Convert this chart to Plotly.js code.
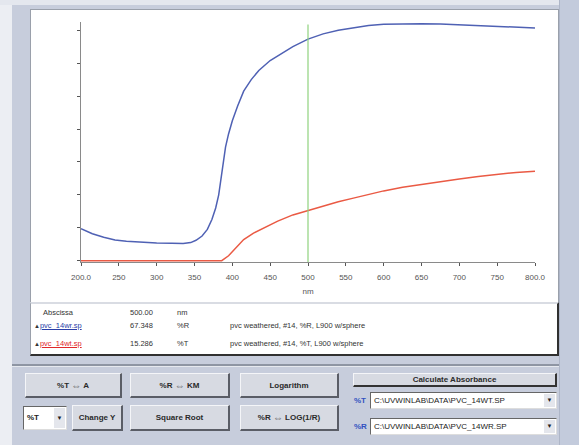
<!DOCTYPE html>
<html>
<head>
<meta charset="utf-8">
<script src="https://cdn.plot.ly/plotly-3.0.1.min.js"></script>
<style>
  html, body { margin:0; padding:0; }
  body { width:579px; height:445px; position:relative; overflow:hidden; background:#c7cddc;
         font-family:"Liberation Sans", Arial, sans-serif; }
  .abs { position:absolute; }
  .btn { position:absolute; background:#d7dae2; border-top:1px solid #f4f5f8; border-left:1px solid #f4f5f8;
         border-right:2px solid #5a5d66; border-bottom:2px solid #5a5d66; box-sizing:border-box;
         font-size:8px; font-weight:bold; color:#2a2a2a; display:flex; align-items:center; justify-content:center; white-space:pre; }
  .sym { font-size:10px; font-weight:normal; color:#555; }
  .txt { position:absolute; font-size:7.5px; color:#333; white-space:nowrap; line-height:9px; }
  .field { position:absolute; background:#fff; border-top:1px solid #666; border-left:1px solid #666;
           border-right:1px solid #ddd; border-bottom:1px solid #ddd; box-sizing:border-box;
           font-size:8px; color:#222; line-height:15px; padding-left:3px; white-space:nowrap; }
  .arrow { position:absolute; right:1px; top:1px; bottom:1px; width:11px; background:#e4e6ec;
           font-size:6px; color:#222; text-align:center; line-height:13px; }
</style>
</head>
<body>
<div class="abs" style="left:0;top:0;width:12px;height:445px;background:#eceef3;"></div>
<div class="abs" style="left:0;top:0;width:579px;height:5px;background:#e4e7ee;"></div>
<div class="abs" style="left:559px;top:0;width:20px;height:445px;background:#c3cbdc;border-left:1px solid #aeb6c8;"></div>

<!-- chart box -->
<div class="abs" style="left:30px;top:9px;width:529px;height:294px;background:#fff;border-top:1px solid #9aa0ab;border-left:1px solid #9aa0ab;border-right:1px solid #9aa0ab;box-sizing:border-box;"></div>
<div id="plot" class="abs" style="left:31px;top:10px;width:527px;height:292px;"></div>

<!-- legend box -->
<div class="abs" style="left:30px;top:302px;width:529px;height:54px;background:#fff;border-top:2px solid #d9dce3;border-left:1px solid #9aa0ab;border-right:2px solid #303030;border-bottom:2px solid #303030;box-sizing:border-box;"></div>

<div class="txt" style="left:43px;top:308px;">Abscissa</div>
<div class="txt" style="left:130px;top:308px;">500.00</div>
<div class="txt" style="left:177px;top:308px;">nm</div>

<div class="txt" style="left:34px;top:321px;color:#2a3fa8;"><span style="font-size:6px;color:#333;">&#9650;</span><span style="text-decoration:underline;">pvc_14wr.sp</span></div>
<div class="txt" style="left:130px;top:321px;">67.348</div>
<div class="txt" style="left:177px;top:321px;">%R</div>
<div class="txt" style="left:230px;top:321px;">pvc weathered, #14, %R, L900 w/sphere</div>

<div class="txt" style="left:34px;top:339px;color:#e0282a;"><span style="font-size:6px;color:#333;">&#9650;</span><span style="text-decoration:underline;">pvc_14wt.sp</span></div>
<div class="txt" style="left:130px;top:339px;">15.286</div>
<div class="txt" style="left:177px;top:339px;">%T</div>
<div class="txt" style="left:230px;top:339px;">pvc weathered, #14, %T, L900 w/sphere</div>

<!-- control panel -->
<div class="abs" style="left:12px;top:364px;width:547px;height:2px;background:#8e95a3;border-bottom:1px solid #e6e9ef;"></div>

<div class="btn" style="left:25px;top:373px;width:97px;height:25px;">%T <span class="sym">&#8660;</span> A</div>
<div class="btn" style="left:130px;top:373px;width:100px;height:25px;">%R <span class="sym">&#8660;</span> KM</div>
<div class="btn" style="left:240px;top:373px;width:99px;height:25px;">Logarithm</div>

<div class="field" style="left:23px;top:406px;width:44px;height:24px;line-height:22px;font-weight:bold;">%T<div class="arrow" style="line-height:20px;">&#9660;</div></div>
<div class="btn" style="left:72px;top:405px;width:51px;height:26px;">Change Y</div>
<div class="btn" style="left:130px;top:405px;width:100px;height:26px;">Square Root</div>
<div class="btn" style="left:240px;top:405px;width:99px;height:26px;">%R <span class="sym">&#8660;</span> LOG(1/R)</div>

<div class="btn" style="left:353px;top:373px;width:204px;height:14px;border-right:2px solid #333;border-bottom:2px solid #333;">Calculate Absorbance</div>

<div class="txt" style="left:354px;top:396px;color:#3050c0;font-weight:bold;font-size:8px;">%T</div>
<div class="field" style="left:370px;top:392px;width:187px;height:17px;">C:\UVWINLAB\DATA\PVC_14WT.SP<div class="arrow">&#9660;</div></div>
<div class="txt" style="left:354px;top:422px;color:#3050c0;font-weight:bold;font-size:8px;">%R</div>
<div class="field" style="left:370px;top:418px;width:187px;height:17px;">C:\UVWINLAB\DATA\PVC_14WR.SP<div class="arrow">&#9660;</div></div>

<script>
// Reflectance (%R) spectrum, blue
const blueNm = [200,215,230,245,260,280,300,320,335,345,352,360,367,373,378,382,385,388,391,395,400,407,415,425,435,450,465,480,500,520,540,560,580,600,625,650,675,700,725,750,775,800];
const blueR  = [9.7,8.2,7.1,6.3,5.9,5.6,5.4,5.3,5.2,5.5,6.2,7.5,9.5,12.5,16,20,25,30,34.5,38.5,42.5,47,51.5,55,57.8,60.8,63,65,67.3,68.9,70.0,70.8,71.4,71.8,72.0,72.0,71.9,71.7,71.4,71.2,71.0,70.7];
// Transmittance (%T) spectrum, red
const redNm = [200,250,300,350,375,386,395,405,415,428,440,460,480,500,520,540,560,580,600,625,650,675,700,725,750,775,800];
const redT  = [0,0,0,0,0,0,1.5,4,6.4,8.4,9.8,12,13.9,15.3,16.7,17.9,19,20.2,21.2,22.3,23.2,24.0,24.8,25.6,26.3,26.8,27.2];
// axis
const xTickVals = [200,250,300,350,400,450,500,550,600,650,700,750,800];
const xTickText = ["200.0","250","300","350","400","450","500","550","600","650","700","750","800.0"];
const cursorNm = 500;

const traces = [
  {x: blueNm, y: blueR, type:'scatter', mode:'lines', line:{color:'#4f61b4', width:1.5}, hoverinfo:'skip'},
  {x: redNm, y: redT, type:'scatter', mode:'lines', line:{color:'#ea5a44', width:1.5}, hoverinfo:'skip'}
];

const layout = {
  width:527, height:292,
  margin:{l:50, r:23, t:12, b:40},
  paper_bgcolor:'rgba(0,0,0,0)', plot_bgcolor:'rgba(0,0,0,0)',
  showlegend:false,
  font:{family:'"Liberation Sans", Arial, sans-serif', size:8, color:'#555'},
  xaxis:{range:[200,800], tickvals:xTickVals, ticktext:xTickText, ticks:'outside', ticklen:3, tickcolor:'#555',
         showline:true, linecolor:'#8a8a8a', linewidth:1, showgrid:false, zeroline:false, layer:'below traces',
         ticklabelstandoff:4, tickfont:{size:8, color:'#555'},
         title:{text:'nm', font:{size:8, color:'#555'}, standoff:7}},
  yaxis:{range:[-0.4,72.5], dtick:10, tick0:0, ticks:'outside', ticklen:3, tickcolor:'#555', showticklabels:false,
         showline:true, linecolor:'#8a8a8a', linewidth:1, showgrid:false, zeroline:false, layer:'below traces'},
  shapes:[{type:'line', xref:'x', yref:'paper', x0:cursorNm, x1:cursorNm, y0:0, y1:0.99,
           line:{color:'#8fd27e', width:1.2}}]
};

Plotly.newPlot('plot', traces, layout, {staticPlot:true, displayModeBar:false});
</script>
</body>
</html>
